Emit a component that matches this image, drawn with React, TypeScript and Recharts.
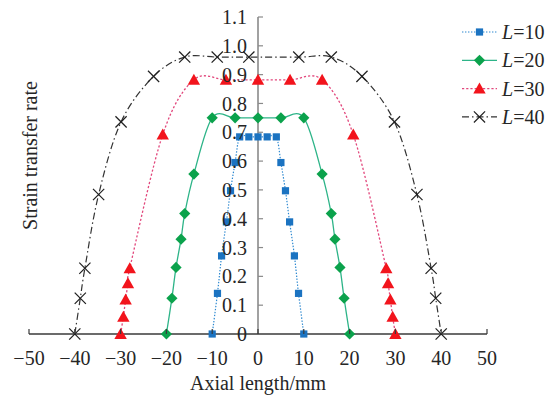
import React from 'react';
import { LineChart, Line, XAxis, YAxis, ReferenceLine, Legend, Label } from 'recharts';

// Axis ticks
const xTicks = [-50, -40, -30, -20, -10, 0, 10, 20, 30, 40, 50];
const yTicks = [0.1, 0.2, 0.3, 0.4, 0.5, 0.6, 0.7, 0.8, 0.9, 1.0, 1.1];
const yLabels = ['0', ...yTicks.map((v) => v.toFixed(1))];

// Strain transfer rate along the axial length for each bonded length L
const l10X = [-10, -8.85, -7.95, -6.9, -6, -5, -4, -2, 0, 2, 4, 5, 6, 6.9, 7.95, 8.85, 10];
const l10Y = [0, 0.141, 0.271, 0.389, 0.497, 0.595, 0.684, 0.684, 0.684, 0.684, 0.684, 0.595, 0.497, 0.389, 0.271, 0.141, 0];

const l20X = [-20, -18.8, -17.9, -16.8, -16, -14, -10, -5, 0, 5, 10, 14, 16, 16.8, 17.9, 18.8, 20];
const l20Y = [0, 0.124, 0.231, 0.329, 0.418, 0.555, 0.75, 0.75, 0.75, 0.75, 0.75, 0.555, 0.418, 0.329, 0.231, 0.124, 0];

const l30X = [-30, -29.4, -28.9, -28.4, -28, -20.8, -14, -7, 0, 7, 14, 20.8, 28, 28.4, 28.9, 29.4, 30];
const l30Y = [0, 0.06, 0.12, 0.176, 0.228, 0.692, 0.882, 0.882, 0.882, 0.882, 0.882, 0.692, 0.228, 0.176, 0.12, 0.06, 0];

const l40X = [-40, -38.8, -37.8, -34.8, -29.9, -22.8, -16, -8.9, -2, 8.9, 16, 22.7, 29.8, 34.7, 37.8, 38.8, 40];
const l40Y = [0, 0.124, 0.228, 0.484, 0.736, 0.894, 0.961, 0.961, 0.961, 0.961, 0.961, 0.894, 0.736, 0.484, 0.228, 0.124, 0];

const toPoints = (xs: number[], ys: number[]) => xs.map((x, i) => ({ x, y: ys[i] }));

const FONT = "'Liberation Serif', 'Times New Roman', serif";
const TEXT = '#262626';

// Smoothed line through the points (Catmull-Rom as cubic Beziers)
const smoothCurve = (context: any) => {
  let pts: [number, number][] = [];
  return {
    areaStart() {},
    areaEnd() {},
    lineStart() {
      pts = [];
    },
    point(x: number, y: number) {
      pts.push([+x, +y]);
    },
    lineEnd() {
      const n = pts.length;
      if (!n) return;
      context.moveTo(pts[0][0], pts[0][1]);
      if (n === 1) return;
      const t = 1 / 6;
      for (let i = 0; i < n - 1; i++) {
        const p0 = pts[Math.max(i - 1, 0)];
        const p1 = pts[i];
        const p2 = pts[i + 1];
        const p3 = pts[Math.min(i + 2, n - 1)];
        context.bezierCurveTo(
          p1[0] + (p2[0] - p0[0]) * t,
          p1[1] + (p2[1] - p0[1]) * t,
          p2[0] - (p3[0] - p1[0]) * t,
          p2[1] - (p3[1] - p1[1]) * t,
          p2[0],
          p2[1]
        );
      }
    },
  };
};

type Kind = 'square' | 'diamond' | 'triangle' | 'cross';

const Marker = ({ cx, cy, kind }: { cx: number; cy: number; kind: Kind }) => {
  if (kind === 'square') {
    return <rect x={cx - 3.6} y={cy - 3.6} width={7.2} height={7.2} fill="#1b73c1" />;
  }
  if (kind === 'diamond') {
    const r = 5.6;
    return <polygon points={`${cx},${cy - r} ${cx + r},${cy} ${cx},${cy + r} ${cx - r},${cy}`} fill="#0ba24c" />;
  }
  if (kind === 'triangle') {
    return <polygon points={`${cx},${cy - 6} ${cx + 6.2},${cy + 5} ${cx - 6.2},${cy + 5}`} fill="#f2141c" />;
  }
  const r = 5.6;
  return (
    <g stroke="#1e1e1e" strokeWidth={1.2}>
      <line x1={cx - r} y1={cy - r} x2={cx + r} y2={cy + r} />
      <line x1={cx - r} y1={cy + r} x2={cx + r} y2={cy - r} />
    </g>
  );
};

const series = [
  { name: '10', data: toPoints(l10X, l10Y), stroke: '#2c88d0', dash: '1.4 1.6', width: 1.2, kind: 'square' as Kind },
  { name: '20', data: toPoints(l20X, l20Y), stroke: '#2db488', dash: undefined, width: 1.3, kind: 'diamond' as Kind },
  { name: '30', data: toPoints(l30X, l30Y), stroke: '#e2477c', dash: '2.2 2', width: 1.3, kind: 'triangle' as Kind },
  { name: '40', data: toPoints(l40X, l40Y), stroke: '#333333', dash: '7 3 1.5 3', width: 1.2, kind: 'cross' as Kind },
];

const fmtX = (v: number) => (v < 0 ? `\u2212${Math.abs(v)}` : `${v}`);

const XTick = (props: any) => {
  const { x, y, payload } = props;
  return (
    <g>
      <line x1={x} y1={y} x2={x} y2={y - 5} stroke="#3a3a3a" strokeWidth={1.2} />
      <text x={x} y={y + 31} textAnchor="middle" fontFamily={FONT} fontSize={20} fill={TEXT}>
        {fmtX(payload.value)}
      </text>
    </g>
  );
};

const LegendBox = () => (
  <svg width={92} height={120}>
    {series.map((s, i) => {
      const cy = 18 + i * 28.3;
      return (
        <g key={s.name}>
          <line x1={7} y1={cy} x2={42} y2={cy} stroke={s.stroke} strokeWidth={s.width} strokeDasharray={s.dash} />
          <Marker cx={24.5} cy={cy} kind={s.kind} />
          <text x={47} y={cy + 7} fontFamily={FONT} fontSize={20} fill={TEXT}>
            <tspan fontStyle="italic">L</tspan>={s.name}
          </text>
        </g>
      );
    })}
  </svg>
);

export default function App() {
  return (
    <div style={{ position: 'absolute', left: 0, top: 0, background: '#fff' }}>
      <LineChart width={547} height={400} margin={{ top: 17, right: 60, bottom: 36, left: 28 }}>
        <XAxis
          type="number"
          dataKey="x"
          domain={[-50, 50]}
          ticks={xTicks}
          interval={0}
          allowDataOverflow
          axisLine={{ stroke: '#3a3a3a', strokeWidth: 1.3 }}
          tickLine={false}
          tickSize={0}
          tickMargin={0}
          tick={<XTick />}
          height={30}
        >
          <Label value="Axial length/mm" position="bottom" offset={12} fontFamily={FONT} fontSize={20} fill={TEXT} />
        </XAxis>
        <YAxis type="number" dataKey="y" domain={[0, 1.1]} width={1} axisLine={false} tickLine={false} tick={false}>
          <Label value="Strain transfer rate" position="center" angle={-90} dy={-20} dx={1} fontFamily={FONT} fontSize={20} fill={TEXT} />
        </YAxis>
        <ReferenceLine x={0} stroke="#8a8a8a" strokeWidth={1.6} />
        <ReferenceLine
          segment={[{ x: 0, y: 0 }, { x: 0, y: 0 }]}
          stroke="none"
          label={{ value: yLabels[0], position: 'left', offset: 11, fontFamily: FONT, fontSize: 20, fill: TEXT }}
        />
        {yTicks.map((v, i) => (
          <ReferenceLine
            key={v}
            segment={[{ x: 0, y: v }, { x: 1.1, y: v }]}
            stroke="#8a8a8a"
            strokeWidth={1.2}
            label={{ value: yLabels[i + 1], position: 'left', offset: 11, fontFamily: FONT, fontSize: 20, fill: TEXT }}
          />
        ))}
        {series.map((s) => (
          <Line
            key={s.name}
            data={s.data}
            dataKey="y"
            name={`L=${s.name}`}
            type={smoothCurve as any}
            stroke={s.stroke}
            strokeWidth={s.width}
            strokeDasharray={s.dash}
            isAnimationActive={false}
            dot={(p: any) => <Marker key={`${s.name}-${p.index}`} cx={p.cx} cy={p.cy} kind={s.kind} />}
            activeDot={false}
          />
        ))}
        <Legend
          layout="horizontal"
          verticalAlign="middle"
          align="center"
          content={<LegendBox />}
          wrapperStyle={{ position: 'absolute', left: 455, top: 14, width: 92, height: 120 }}
        />
      </LineChart>
    </div>
  );
}
